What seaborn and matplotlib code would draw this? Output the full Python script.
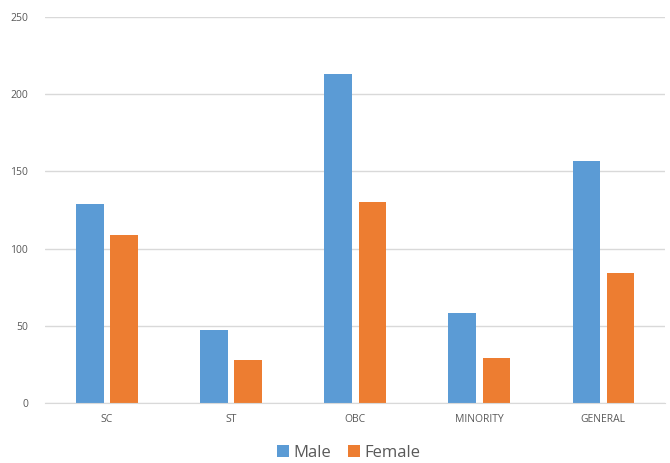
import pandas as pd
import matplotlib
matplotlib.use("Agg")
import matplotlib.pyplot as plt
import seaborn as sns

# Values
categories = ['SC', 'ST', 'OBC', 'MINORITY', 'GENERAL']
male = [129, 47, 213, 58, 157]
female = [109, 28, 130, 29, 84]

data = pd.DataFrame({
    'category': categories * 2,
    'count': male + female,
    'gender': ['Male'] * len(categories) + ['Female'] * len(categories),
})

sns.set_style('white')
plt.rcParams['font.family'] = ['Open Sans', 'DejaVu Sans']

fig = plt.figure(figsize=(6.7, 4.63), dpi=100)
ax = fig.add_axes([0.067, 0.13, 0.926, 0.833])

sns.barplot(data=data, x='category', y='count', hue='gender',
            palette={'Male': '#5B9BD5', 'Female': '#ED7D31'},
            saturation=1, linewidth=0,
            width=0.55, gap=0.2, ax=ax, legend=True)

ax.set_ylim(0, 250)
ax.set_yticks([0, 50, 100, 150, 200, 250])
ax.yaxis.grid(True, color='#D9D9D9', linewidth=1)
ax.set_axisbelow(True)
for side in ['top', 'right', 'left']:
    ax.spines[side].set_visible(False)
ax.spines['bottom'].set_color('#D9D9D9')
ax.tick_params(axis='both', length=0, labelsize=7.5, labelcolor='#595959')
ax.tick_params(axis='y', pad=12)
ax.tick_params(axis='x', pad=8)
ax.set_xlabel('')
ax.set_ylabel('')

ax.legend(loc='upper center', bbox_to_anchor=(0.49, -0.07), ncol=2,
          frameon=False, fontsize=12, handlelength=0.7, handleheight=0.7,
          handletextpad=0.3, columnspacing=1.0, labelcolor='#595959')

fig.savefig('out.png', dpi=100, facecolor='white')
